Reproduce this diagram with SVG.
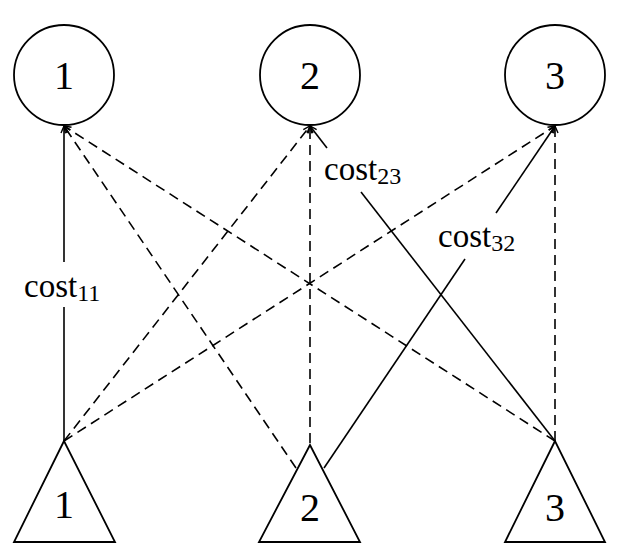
<svg xmlns="http://www.w3.org/2000/svg" width="621" height="557" viewBox="0 0 621 557">
<style>
.node{fill:none;stroke:#000;stroke-width:1.8}
.lbl{font-family:"Liberation Serif","Times New Roman",serif;font-size:40px;fill:#000;text-anchor:middle}
.c{stroke:#000;stroke-width:1.6;fill:none}
.d{stroke-dasharray:10 6}
.cost{font-family:"Liberation Serif","Times New Roman",serif;font-size:33px;fill:#000}
.sub{font-size:24px}
</style>
<defs>
<marker id="ah" markerUnits="userSpaceOnUse" markerWidth="10" markerHeight="10" refX="8" refY="4" orient="auto" viewBox="0 0 10 8">
<path d="M1,1 L8,4 L1,7" fill="none" stroke="#000" stroke-width="1.4" stroke-dasharray="none"/>
</marker>
</defs>
<g id="connectors">
<path class="c" d="M64,441 L64,307"/>
<path class="c" d="M64,262 L64,126" marker-end="url(#ah)"/>
<path class="c d" d="M64,441 L310,126" marker-end="url(#ah)"/>
<path class="c d" d="M64,441 L555,126" marker-end="url(#ah)"/>
<path class="c d" d="M296,468 L64,126" marker-end="url(#ah)"/>
<path class="c d" d="M310,443 L310,126" marker-end="url(#ah)"/>
<path class="c" d="M324,468 L465,259"/>
<path class="c" d="M496,213 L555,126" marker-end="url(#ah)"/>
<path class="c d" d="M555,441 L64,126" marker-end="url(#ah)"/>
<path class="c" d="M555,441 L361,192"/>
<path class="c" d="M327,148 L310,126" marker-end="url(#ah)"/>
<path class="c d" d="M555,441 L555,126" marker-end="url(#ah)"/>
<text class="cost" x="24" y="297">cost<tspan class="sub" dy="4">11</tspan></text>
<text class="cost" x="324" y="180">cost<tspan class="sub" dy="4">23</tspan></text>
<text class="cost" x="438" y="247">cost<tspan class="sub" dy="4">32</tspan></text>
</g>
<g id="c1"><circle class="node" cx="64" cy="75" r="50"/><text class="lbl" x="64" y="89">1</text></g>
<g id="c2"><circle class="node" cx="310" cy="75" r="50"/><text class="lbl" x="310" y="89">2</text></g>
<g id="c3"><circle class="node" cx="555" cy="75" r="50"/><text class="lbl" x="555" y="89">3</text></g>
<g id="t1"><polygon class="node" points="64,441 14,542 115,542"/><text class="lbl" x="64" y="518">1</text></g>
<g id="t2"><polygon class="node" points="310,445 259,542 360,542"/><text class="lbl" x="310" y="521">2</text></g>
<g id="t3"><polygon class="node" points="555,441 505,542 605,542"/><text class="lbl" x="555" y="521">3</text></g>
</svg>
